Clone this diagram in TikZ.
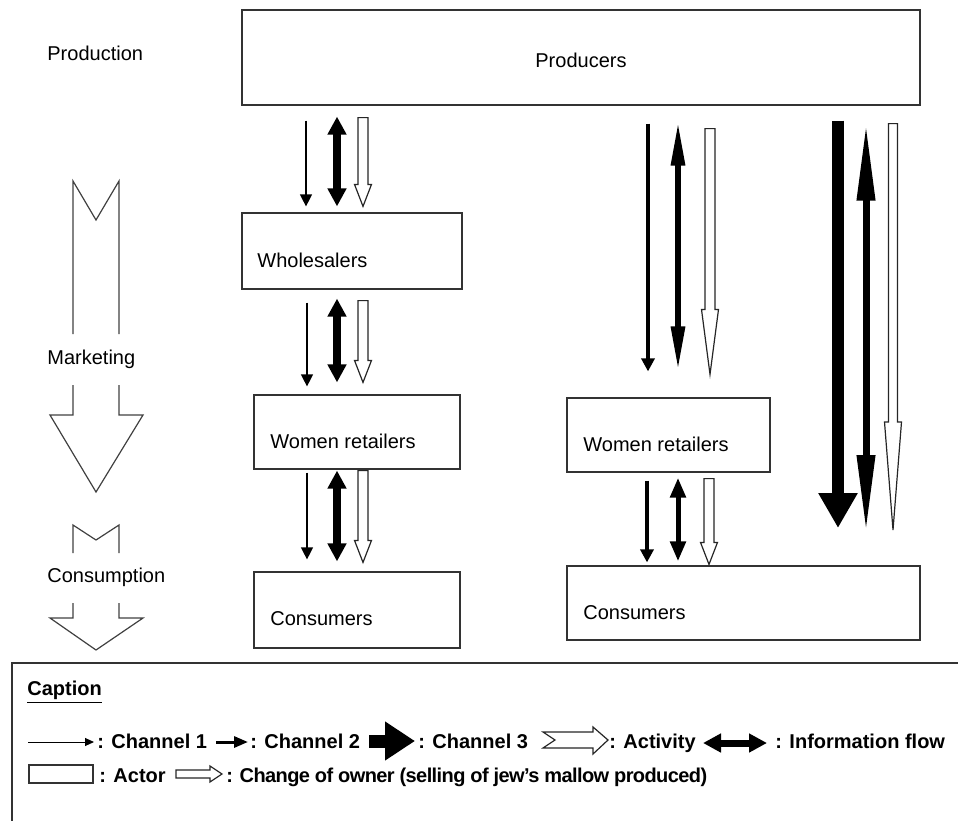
\documentclass[tikz,border=0pt]{standalone}
\usepackage{fontspec}
\setmainfont{Liberation Sans}
\usetikzlibrary{arrows.meta,calc}

\newcommand{\hollowdown}[5]{%
	\draw[holo] let \p1=(#1), \p2=(#2) in
		(\x1-#3,\y1) -- (\x1+#3,\y1) -- (\x1+#3,\y2+#5) -- (\x1+#4,\y2+#5)
		-- (\x1,\y2) -- (\x1-#4,\y2+#5) -- (\x1-#3,\y2+#5) -- cycle;}

\begin{document}
\begin{tikzpicture}[x=0.5pt,y=-0.5pt,
		every node/.style={font=\fontsize{10}{12}\selectfont},
		actor/.style={draw=black!80, line width=0.6pt, inner sep=0pt},
		lbl/.style={anchor=base west, inner sep=0pt},
		legtext/.style={anchor=base west, inner sep=0pt, font=\fontsize{10}{12}\selectfont\bfseries},
		stage/.style={draw=black!75, line width=0.6pt},
		chone/.style={line width=0.6pt, -{Triangle[length=6pt,width=6pt]}},
		chtwo/.style={line width=2pt, -{Triangle[length=6.5pt,width=6.5pt]}},
		chthree/.style={line width=6pt, -{Triangle[length=17.5pt,width=18.5pt]}},
		info/.style n args={3}{line width=#1, {Triangle[length=#2,width=#3]}-{Triangle[length=#2,width=#3]}},
		holo/.style={draw=black!85, line width=0.6pt, fill=white}]

		\useasboundingbox (0,0) rectangle (958,820);
		%\draw[step=50,gray,very thin] (0,0) grid (958,820);

		\node[actor, minimum width=339pt, minimum height=47.5pt] (prod) at (581,57.5) {};
			\node[lbl] (prodtxt) at (535,67) {Producers};
		\node[actor, minimum width=110pt, minimum height=38pt] (ws) at (352,251) {};
			\node[lbl] (wstxt) at (257,267) {Wholesalers};
		\node[actor, minimum width=103pt, minimum height=37pt] (wrA) at (357,432) {};
			\node[lbl] (wrAtxt) at (270,448) {Women retailers};
		\node[actor, minimum width=103pt, minimum height=38pt] (conA) at (357,610) {};
			\node[lbl] (conAtxt) at (270,625) {Consumers};
		\node[actor, minimum width=101.5pt, minimum height=37pt] (wrB) at (668.5,435) {};
			\node[lbl] (wrBtxt) at (583,451) {Women retailers};
		\node[actor, minimum width=176.5pt, minimum height=37pt] (conB) at (743.5,603) {};
			\node[lbl] (conBtxt) at (583,619) {Consumers};
		\coordinate (low) at (0,530);

		\node[lbl] (stage1) at (47,60) {Production};
		\node[lbl] (stage2) at (47,364) {Marketing};
		\node[lbl] (stage3) at (47,582) {Consumption};
		\draw[stage] (73,334) -- (73,181) -- (96,220) -- (119,181) -- (119,334);
		\draw[stage] (73,385) -- (73,415) -- (50,415) -- (96,492) -- (143,415) -- (119,415) -- (119,385);
		\draw[stage] (73,553) -- (73,525) -- (96,540) -- (119,525) -- (119,553);
		\draw[stage] (73,603) -- (73,618) -- (50,618) -- (96,650) -- (143,618) -- (119,618) -- (119,603);

		% channel through wholesalers
		\draw[chone, shorten <=7.5pt, shorten >=3pt] (306,0 |- prod.south) -- (306,0 |- ws.north);
		\draw[info={4pt}{9pt}{9pt}, shorten <=5.5pt, shorten >=3pt] (337,0 |- prod.south) -- (337,0 |- ws.north);
		\hollowdown{$(363,0 |- prod.south)+(0,12)$}{$(363,0 |- ws.north)+(0,-6)$}{2.5pt}{4.25pt}{11pt}
		\draw[chone, shorten <=6.5pt, shorten >=4pt] (307,0 |- ws.south) -- (307,0 |- wrA.north);
		\draw[info={4pt}{9pt}{9pt}, shorten <=4.5pt, shorten >=6pt] (337,0 |- ws.south) -- (337,0 |- wrA.north);
		\hollowdown{$(363,0 |- ws.south)+(0,11)$}{$(363,0 |- wrA.north)+(0,-12)$}{2.5pt}{4.25pt}{11pt}
		\draw[chone, shorten <=1.5pt, shorten >=6pt] (307,0 |- wrA.south) -- (307,0 |- conA.north);
		\draw[info={4pt}{9pt}{9pt}, shorten <=0.5pt, shorten >=5pt] (337,0 |- wrA.south) -- (337,0 |- conA.north);
		\hollowdown{$(363,0 |- wrA.south)+(0,1)$}{$(363,0 |- conA.north)+(0,-9)$}{2.5pt}{4.25pt}{11pt}

		% channel through women retailers
		\draw[chtwo, shorten <=9pt, shorten >=13pt] (648,0 |- prod.south) -- (648,0 |- wrB.north);
		\draw[info={3pt}{22.5pt}{6.5pt}, shorten <=7.5pt, shorten >=13pt] (678,0 |- prod.south) -- (678,0 |- wrB.north);
		\hollowdown{$(710,0 |- prod.south)+(0,23)$}{$(710,0 |- wrB.north)+(0,-23)$}{2.5pt}{4.25pt}{32.5pt}
		\draw[chtwo, shorten <=4pt, shorten >=1.5pt] (647,0 |- wrB.south) -- (647,0 |- conB.north);
		\draw[info={2.5pt}{10pt}{7.5pt}, shorten <=2.5pt, shorten >=2pt] (678,0 |- wrB.south) -- (678,0 |- conB.north);
		\hollowdown{$(709,0 |- wrB.south)+(0,6)$}{$(709,0 |- conB.north)+(0,-1)$}{2.5pt}{4.25pt}{11pt}

		% direct channel
		\draw[chthree, shorten <=7.5pt, shorten >=1pt] (838,0 |- prod.south) -- (838,0 |- low);
		\draw[info={3.5pt}{39pt}{8.5pt}, shorten <=8.5pt, shorten >=-1.5pt] (866,0 |- prod.south) -- (866,0 |- low);
		\hollowdown{$(893,0 |- prod.south)+(0,18)$}{893,0 |- low}{2.25pt}{4.25pt}{54pt}

		% caption
		\draw[actor] (12,663) rectangle (975,830);
		\node[legtext] (captitle) at (27,695) {\underline{Caption}};
		\draw[line width=0.5pt, -{Triangle[length=4.5pt,width=4pt]}] (28,742) -- (94,742);
			\node[legtext] (leg1) at (97,748) {: Channel 1};
		\draw[line width=1.5pt, -{Triangle[length=7pt,width=5.5pt]}] (216,742) -- (248,742);
			\node[legtext] (leg2) at (250,748) {: Channel 2};
		\draw[line width=6.5pt, -{Triangle[length=15pt,width=18.5pt]}] (369,741) -- (415,741);
			\node[legtext] (leg3) at (418,748) {: Channel 3};
		\draw[holo] (543,732) -- (593,732) -- (593,727) -- (608,740) -- (593,754) -- (593,748) -- (543,748) -- (555,740) -- cycle;
			\node[legtext] (leg4) at (609,748) {: Activity};
		\draw[info={3.5pt}{9pt}{9pt}] (703,743) -- (767,743);
			\node[legtext] (leg5) at (775,748) {: Information flow};
		\draw[actor] (29,765) rectangle (93,783);
			\node[legtext] (leg6) at (99,782) {: Actor};
		\draw[holo] (176,770) -- (210,770) -- (210,766) -- (222,774) -- (210,782) -- (210,778) -- (176,778) -- cycle;
			\node[legtext, font=\fontsize{10}{12}\selectfont\bfseries\addfontfeature{LetterSpace=-3}] (leg7) at (226,782) {: Change of owner (selling of jew’s mallow produced)};

	\end{tikzpicture}
\end{document}
